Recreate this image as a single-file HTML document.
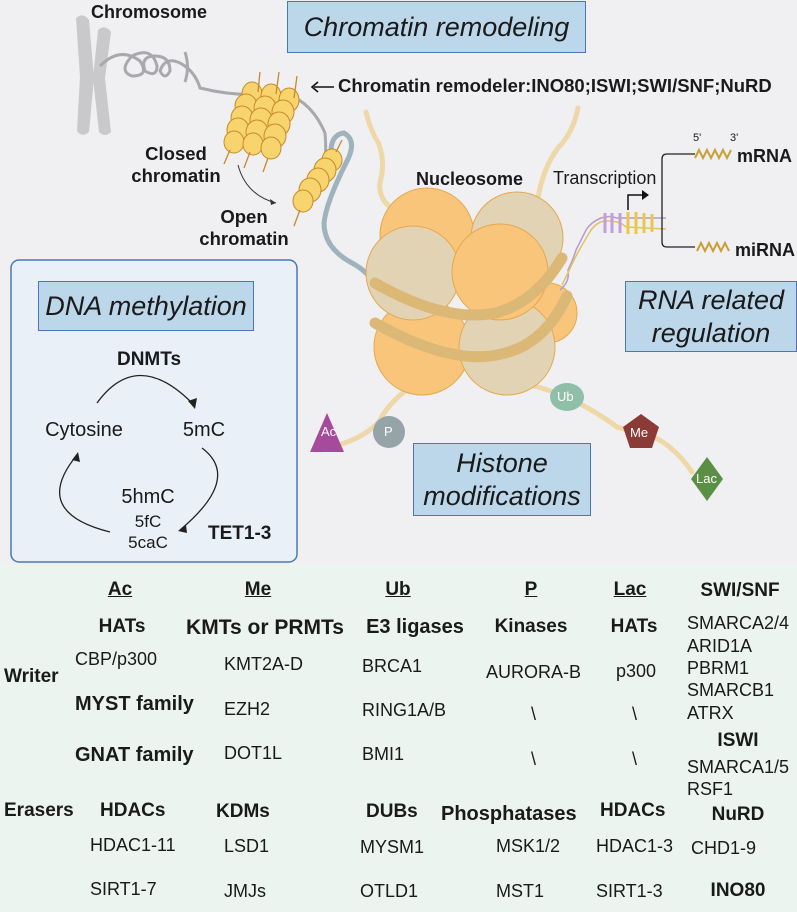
<!DOCTYPE html>
<html><head><meta charset="utf-8"><style>
*{margin:0;padding:0;box-sizing:border-box}
body{width:797px;height:912px;position:relative;overflow:hidden;background:#f0eff2;font-family:"Liberation Sans",sans-serif;color:#1a1a1a}
.t{position:absolute;white-space:nowrap;line-height:1}
.b{font-weight:bold}
.c{transform:translateX(-50%)}
.box{position:absolute;background:#bcd6ea;border:1.5px solid #4a78b5;display:flex;align-items:center;justify-content:center;text-align:center;font-style:italic;color:#1a1a1a;line-height:1.2}
.u{text-decoration:underline}
.tab{position:absolute;left:0;top:564px;width:797px;height:348px;background:#ebf4ef}
.h{font-size:19px;font-weight:bold}
.r{font-size:18px}
</style></head><body>
<div class="tab"></div>
<svg width="797" height="912" style="position:absolute;left:0;top:0">
<rect x="11" y="260" width="286" height="302" rx="8" fill="#e9f0f8" stroke="#4a78b5" stroke-width="1.5"/>
<g fill="#c9c9cc">
<path d="M76 18 q7 -6 13 2 l5 58 l-5 54 q-7 6 -12 -1 l3 -54z"/>
<path d="M98 30 q7 -6 13 2 l-6 46 l6 54 q-6 6 -12 0 l-6 -54z"/>
</g>
<g fill="none" stroke="#a9a9ad" stroke-width="3">
<path d="M100 66 q20 -20 40 -5 q10 15 -8 15 q-14 -5 0 -20 q20 -10 25 10 q0 12 -12 5 q-5 -15 10 -15 q15 0 15 15 q-5 10 -10 0 q5 -15 20 -8 q15 8 20 25 q40 10 80 5 q30 5 45 40 q2 25 -2 35"/>
<path d="M185 52 q5 15 0 30"/>
</g>
<path d="M332 165 q-5 -30 12 -32 q14 8 2 30 q-20 40 -22 60 q0 25 28 40 q15 8 24 22" fill="none" stroke="#9fb3bd" stroke-width="5"/>
<g fill="#f8d46e" stroke="#c88a2a" stroke-width="1">
<g id="col">
<ellipse cx="252" cy="94" rx="10" ry="12"/><ellipse cx="246" cy="106" rx="11" ry="12"/><ellipse cx="242" cy="118" rx="11" ry="12"/><ellipse cx="238" cy="130" rx="11" ry="12"/><ellipse cx="234" cy="142" rx="10" ry="11"/>
</g>
<use href="#col" x="19" y="2"/>
<use href="#col" x="37" y="6"/>
<ellipse cx="332" cy="160" rx="10" ry="11"/><ellipse cx="325" cy="170" rx="11" ry="12"/><ellipse cx="318" cy="180" rx="11" ry="12"/><ellipse cx="310" cy="190" rx="11" ry="12"/><ellipse cx="303" cy="201" rx="10" ry="11"/>
</g>
<g stroke="#c88a2a" stroke-width="1.3" fill="none">
<path d="M258 92 l2 -20 M276 94 l3 -22 M294 98 l3 -22 M230 150 l-6 14 M250 152 l-6 16 M268 158 l-5 14 M336 152 l6 -12 M300 210 l-6 16"/>
</g>
<path d="M238 165 q8 30 38 38" fill="none" stroke="#333" stroke-width="1"/>
<path d="M276 203 l-6 -4 l1 6z" fill="#333"/>
<path d="M334 87 h-20" stroke="#111" stroke-width="1.6"/>
<path d="M318 82 l-6 5 l6 5" fill="none" stroke="#111" stroke-width="1.6"/>
<g fill="none" stroke="#efd8a8" stroke-width="5" stroke-linecap="round">
<path d="M366 112 q5 20 12 30 q8 20 2 40 q-2 15 10 25"/>
<path d="M578 108 q-5 25 -20 40 q-15 20 -20 50"/>
<path d="M420 380 q-30 20 -40 40 q-15 20 -60 30"/>
<path d="M530 385 q20 5 37 12 q30 15 50 30 q15 5 25 5 q30 10 50 40"/>
</g>
<g stroke="#e3a94f" stroke-width="1">
<circle cx="427" cy="235" r="47" fill="#f8c57a"/>
<circle cx="517" cy="238" r="46" fill="#e3d3b5"/>
<circle cx="547" cy="313" r="30" fill="#f8c57a"/>
<circle cx="422" cy="347" r="48" fill="#f8c57a"/>
<circle cx="507" cy="347" r="48" fill="#e3d3b5"/>
<circle cx="413" cy="273" r="47" fill="#e3d3b5"/>
<circle cx="500" cy="272" r="48" fill="#f8c57a"/>
</g>
<g fill="none" stroke="#dcb877" stroke-width="11" stroke-linecap="round">
<path d="M375 283 q70 40 120 30 q40 -10 67 -55"/>
<path d="M375 323 q80 45 130 30 q40 -10 62 -57"/>
</g>
<g fill="none" stroke-width="1.5">
<path d="M560 290 q10 -8 8 -20 q5 -10 8 -20 q5 -10 10 -20 q5 -8 15 -12 q10 -3 15 0 l50 0" stroke="#b79bd0"/>
<path d="M562 285 q6 -12 12 -25 q6 -12 14 -25 q8 -15 20 -14 q12 0 18 6 l40 2" stroke="#e0c460"/>
</g>
<g stroke="#c0a0d8" stroke-width="3"><path d="M605 213 v20 M612 213 v20 M620 213 v20"/></g>
<g stroke="#e8c84a" stroke-width="3"><path d="M628 212 v22 M636 212 v22 M644 213 v20 M652 214 v18"/></g>
<path d="M628 210 v-15 h16" fill="none" stroke="#111" stroke-width="1.5"/>
<path d="M642 190 l7 5 l-7 5z" fill="#111"/>
<path d="M695 154 h-28 q-5 0 -5 5 v83 q0 5 5 5 h28" fill="none" stroke="#222" stroke-width="1.3"/>
<path d="M695 158 l4 -8 l4 8 l4 -8 l4 8 l4 -8 l4 8 l4 -8 l4 8 l4 -8" fill="none" stroke="#c9a037" stroke-width="2"/>
<path d="M697 251 l4 -8 l4 8 l4 -8 l4 8 l4 -8 l4 8 l4 -8 l4 8" fill="none" stroke="#c9a037" stroke-width="2"/>
<path d="M327 413 l17 39 h-34z" fill="#a64a9c"/>
<circle cx="389" cy="432" r="16" fill="#96a3a9"/>
<ellipse cx="567" cy="397" rx="17" ry="14" fill="#8fbfa8"/>
<path d="M641 414 l18 13 l-7 21 h-22 l-7 -21z" fill="#8b3a36"/>
<path d="M707 457 l16 22 l-16 22 l-16 -22z" fill="#5a8f45"/>
<g fill="none" stroke="#222" stroke-width="1.3">
<path d="M97 403 q40 -55 95 0"/>
<path d="M202 448 q40 30 -22 82"/>
<path d="M110 532 q-80 -20 -33 -77"/>
</g>
<path d="M195 409 l-7 -8 l9 -3z" fill="#222"/>
<path d="M178 531 l8 -6 l1 8z" fill="#222"/>
<path d="M78 452 l-6 8 l8 2z" fill="#222"/>
</svg>
<div class="t b" style="left:91px;top:3px;font-size:18px">Chromosome</div>
<div class="box" style="left:287px;top:1px;width:299px;height:52px;font-size:27px">Chromatin remodeling</div>
<div class="t b" style="left:338px;top:77px;font-size:18.5px">Chromatin remodeler:INO80;ISWI;SWI/SNF;NuRD</div>
<div class="t b c" style="left:176px;top:143px;font-size:18.5px;text-align:center;line-height:22px">Closed<br>chromatin</div>
<div class="t b c" style="left:244px;top:206px;font-size:18.5px;text-align:center;line-height:22px">Open<br>chromatin</div>
<div class="t b" style="left:416px;top:170px;font-size:18px">Nucleosome</div>
<div class="t" style="left:553px;top:169px;font-size:18px">Transcription</div>
<div class="t" style="left:693px;top:133px;font-size:11px">5'</div>
<div class="t" style="left:730px;top:133px;font-size:11px">3'</div>
<div class="t b" style="left:737px;top:147px;font-size:18px">mRNA</div>
<div class="t b" style="left:735px;top:241px;font-size:18px">miRNA</div>
<div class="box" style="left:625px;top:281px;width:172px;height:71px;font-size:27px">RNA related<br>regulation</div>
<div class="box" style="left:38px;top:281px;width:216px;height:50px;font-size:27px">DNA methylation</div>
<div class="t b c" style="left:149px;top:350px;font-size:19px">DNMTs</div>
<div class="t c" style="left:84px;top:420px;font-size:20px">Cytosine</div>
<div class="t c" style="left:204px;top:420px;font-size:20px">5mC</div>
<div class="t c" style="left:148px;top:487px;font-size:20px">5hmC</div>
<div class="t c" style="left:148px;top:513px;font-size:17px">5fC</div>
<div class="t c" style="left:148px;top:534px;font-size:17px">5caC</div>
<div class="t b" style="left:208px;top:524px;font-size:19px">TET1-3</div>
<div class="t" style="left:321px;top:425px;font-size:13px;color:#fff">Ac</div>
<div class="t" style="left:384px;top:425px;font-size:13px;color:#fff">P</div>
<div class="t" style="left:557px;top:390px;font-size:13px;color:#fff">Ub</div>
<div class="t" style="left:630px;top:426px;font-size:13px;color:#fff">Me</div>
<div class="t" style="left:696px;top:472px;font-size:13px;color:#fff">Lac</div>
<div class="box" style="left:413px;top:443px;width:178px;height:73px;font-size:27px">Histone<br>modifications</div>

<div class="t h u c" style="left:120px;top:580px">Ac</div>
<div class="t h u c" style="left:258px;top:580px">Me</div>
<div class="t h u c" style="left:398px;top:580px">Ub</div>
<div class="t h u c" style="left:531px;top:580px">P</div>
<div class="t h u c" style="left:630px;top:580px">Lac</div>
<div class="t h c" style="left:740px;top:581px">SWI/SNF</div>
<div class="t h c" style="left:122px;top:617px">HATs</div>
<div class="t h c" style="left:265px;top:617px;font-size:21px">KMTs or PRMTs</div>
<div class="t h c" style="left:415px;top:617px;font-size:20px">E3 ligases</div>
<div class="t h c" style="left:531px;top:617px">Kinases</div>
<div class="t h c" style="left:634px;top:617px">HATs</div>
<div class="t r" style="left:687px;top:614px">SMARCA2/4</div>
<div class="t r" style="left:687px;top:637px">ARID1A</div>
<div class="t r" style="left:687px;top:659px">PBRM1</div>
<div class="t r" style="left:687px;top:681px">SMARCB1</div>
<div class="t r" style="left:687px;top:704px">ATRX</div>
<div class="t h" style="left:4px;top:667px">Writer</div>
<div class="t r" style="left:75px;top:650px">CBP/p300</div>
<div class="t r" style="left:224px;top:655px">KMT2A-D</div>
<div class="t r" style="left:362px;top:657px">BRCA1</div>
<div class="t r" style="left:486px;top:663px">AURORA-B</div>
<div class="t r" style="left:616px;top:662px">p300</div>
<div class="t h" style="left:75px;top:694px;font-size:20px">MYST family</div>
<div class="t r" style="left:224px;top:700px">EZH2</div>
<div class="t r" style="left:362px;top:701px">RING1A/B</div>
<div class="t r" style="left:531px;top:705px">\</div>
<div class="t r" style="left:632px;top:705px">\</div>
<div class="t h c" style="left:738px;top:731px">ISWI</div>
<div class="t h" style="left:75px;top:745px;font-size:20px">GNAT family</div>
<div class="t r" style="left:224px;top:744px">DOT1L</div>
<div class="t r" style="left:362px;top:745px">BMI1</div>
<div class="t r" style="left:531px;top:750px">\</div>
<div class="t r" style="left:632px;top:750px">\</div>
<div class="t r" style="left:687px;top:758px">SMARCA1/5</div>
<div class="t r" style="left:687px;top:780px">RSF1</div>
<div class="t h" style="left:4px;top:801px">Erasers</div>
<div class="t h" style="left:100px;top:801px">HDACs</div>
<div class="t h" style="left:216px;top:802px">KDMs</div>
<div class="t h" style="left:366px;top:802px">DUBs</div>
<div class="t h" style="left:441px;top:804px;font-size:20px">Phosphatases</div>
<div class="t h" style="left:600px;top:801px">HDACs</div>
<div class="t h c" style="left:738px;top:805px">NuRD</div>
<div class="t r" style="left:90px;top:836px">HDAC1-11</div>
<div class="t r" style="left:224px;top:837px">LSD1</div>
<div class="t r" style="left:360px;top:838px">MYSM1</div>
<div class="t r" style="left:496px;top:837px">MSK1/2</div>
<div class="t r" style="left:596px;top:837px">HDAC1-3</div>
<div class="t r" style="left:691px;top:839px">CHD1-9</div>
<div class="t r" style="left:90px;top:880px">SIRT1-7</div>
<div class="t r" style="left:224px;top:882px">JMJs</div>
<div class="t r" style="left:360px;top:882px">OTLD1</div>
<div class="t r" style="left:496px;top:882px">MST1</div>
<div class="t r" style="left:596px;top:882px">SIRT1-3</div>
<div class="t h c" style="left:738px;top:881px">INO80</div>
</body></html>
